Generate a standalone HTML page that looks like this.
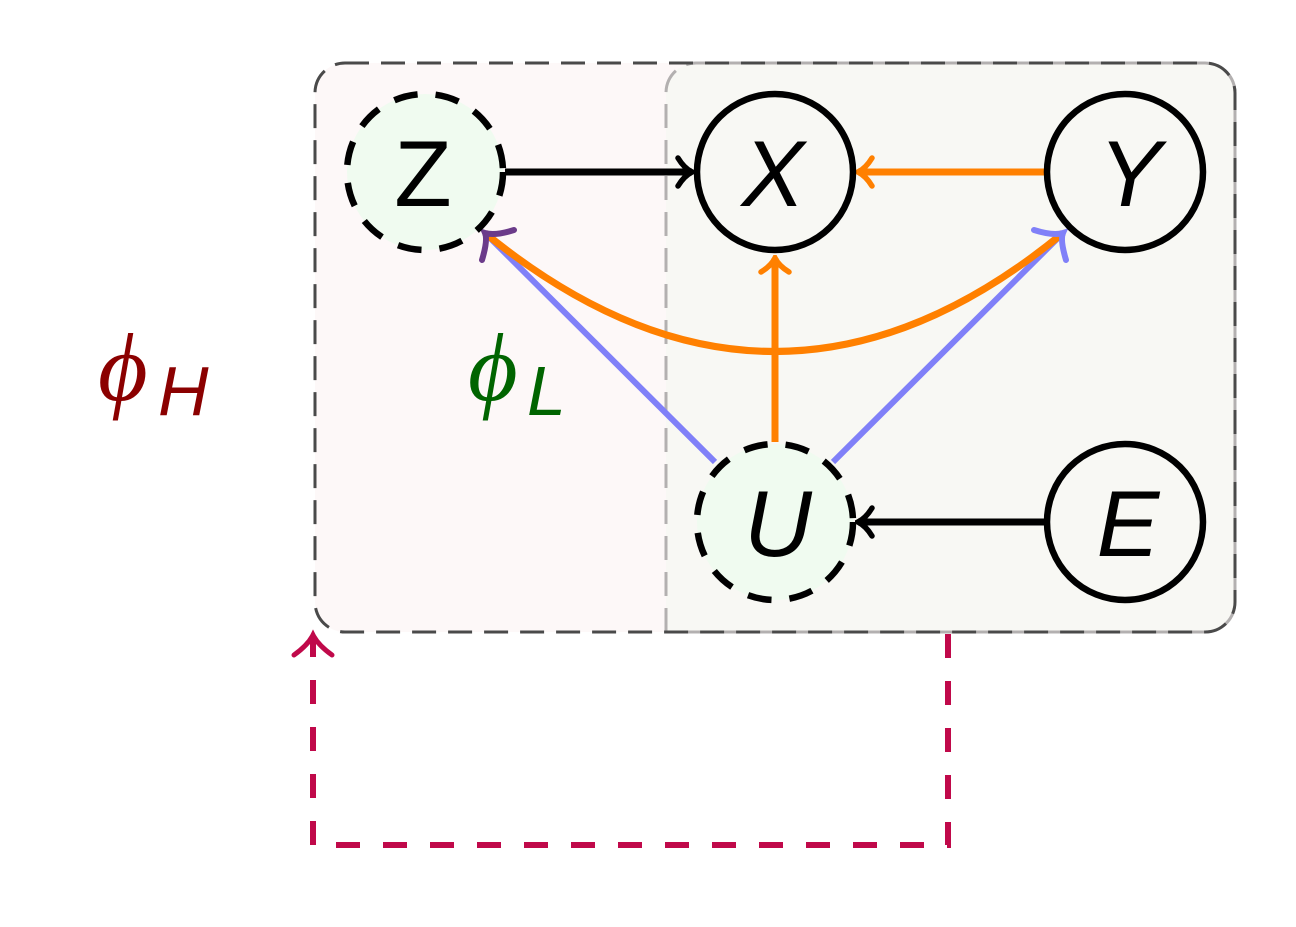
<!DOCTYPE html>
<html><head><style>body{margin:0;background:#fff}svg{display:block}</style></head><body>
<svg width="1296" height="927" viewBox="0 0 1296 927" xmlns="http://www.w3.org/2000/svg">
<defs>
<marker id="a" markerWidth="20" markerHeight="34" refX="17" refY="17" orient="auto" markerUnits="userSpaceOnUse">
<path d="M3,3 Q9,13 17,17 Q9,21 3,31" fill="none" stroke="context-stroke" stroke-width="5.5" stroke-linecap="round"/>
</marker>
</defs>
<rect x="315" y="63" width="920" height="569" rx="30" fill="#fdf8f8"/>
<path d="M666,632 V93 a30,30 0 0 1 30,-30 H1205 a30,30 0 0 1 30,30 V602 a30,30 0 0 1 -30,30 Z" fill="#f8f8f4" stroke="#b3b0b0" stroke-width="3" stroke-dasharray="24,12"/>
<rect x="315" y="63" width="920" height="569" rx="30" fill="none" stroke="#4a4a4a" stroke-width="3" stroke-dasharray="24,12"/>
<path d="M948,634 V845 H313 V640" fill="none" stroke="#c0094a" stroke-width="6" stroke-dasharray="24,23"/>
<path d="M294,655 Q308,645 313,635 Q318,645 332,655" fill="none" stroke="#c0094a" stroke-width="5" stroke-linecap="round"/>
<g fill="#f0fbf0">
<circle cx="425" cy="172" r="78"/><circle cx="775" cy="522" r="78"/></g>
<g fill="none" stroke-width="7">
<line x1="715" y1="462" x2="485" y2="233" stroke="#8080f8" stroke-width="6"/>
<line x1="833" y1="462" x2="1063" y2="233" stroke="#8080f8" stroke-width="6"/>
<path d="M1063,233 Q775,470 485,233" stroke="#ff8000"/>
<line x1="775" y1="442" x2="775" y2="258" stroke="#ff8000" marker-end="url(#a)"/>
<line x1="1045" y1="172" x2="858" y2="172" stroke="#ff8000" marker-end="url(#a)"/>
<line x1="505" y1="172" x2="692" y2="172" stroke="#000" marker-end="url(#a)"/>
<line x1="1045" y1="522" x2="858" y2="522" stroke="#000" marker-end="url(#a)"/>
</g>
<path d="M482,260 Q488,240 485,233 Q495,236 514,230" fill="none" stroke="#6b3b8a" stroke-width="6" stroke-linecap="round"/>
<path d="M1066,260 Q1060,240 1063,233 Q1053,236 1034,230" fill="none" stroke="#8080f8" stroke-width="6" stroke-linecap="round"/>
<g fill="none" stroke="#000" stroke-width="6.5">
<circle cx="425" cy="172" r="78" stroke-dasharray="24,18"/>
<circle cx="775" cy="522" r="78" stroke-dasharray="24,18"/>
<circle cx="775" cy="172" r="78"/>
<circle cx="1125" cy="172" r="78"/>
<circle cx="1125" cy="522" r="78"/>
</g>
<g font-family="Liberation Sans, DejaVu Sans, sans-serif" font-size="94" text-anchor="middle" fill="#000">
<text x="423" y="206">Z</text>
<text x="773" y="206" font-style="italic">X</text>
<text x="1130" y="206" font-style="italic">Y</text>
<text x="778" y="556" font-style="italic">U</text>
<text x="1128" y="556" font-style="italic">E</text>
</g>
<g font-family="Liberation Serif, serif" font-style="italic">
<text x="98" y="400" font-size="96" fill="#8b0000">ϕ</text>
<text x="158" y="415" font-size="70" fill="#8b0000" font-family="Liberation Sans, sans-serif">H</text>
<text x="468" y="400" font-size="96" fill="#006400">ϕ</text>
<text x="527" y="415" font-size="70" fill="#006400" font-family="Liberation Sans, sans-serif">L</text>
</g>
</svg>
</body></html>
